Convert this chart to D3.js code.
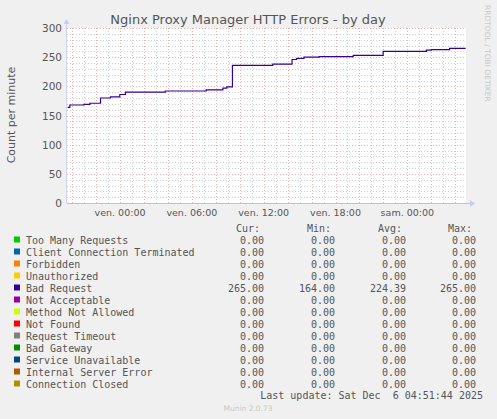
<!DOCTYPE html>
<html><head><meta charset="utf-8">
<script src="https://d3js.org/d3.v7.min.js"></script>
<style>body{margin:0;background:#f0f0f0}svg{display:block}</style>
</head><body><svg id="c" width="497" height="419"></svg>
<script>
// hours relative to Fri 00:00
const hours = [-4.38,-4.19,-3.02,-2.52,-1.63,-0.8,-0.02,0.45,3.78,7.2,8.59,8.92,9.39,12.76,14.37,14.76,15.37,16.64,19.48,21.98,25.59,26.0,27.53,28.87];
const badRequest = [164,168,169,171,180,182,186,190,192,194,197,199,236,238,246,248,250,251,253,260,262,263,265,265];
const yTicks = [0,50,100,150,200,250,300];
const xTickHours = [0,6,12,18,24];
const xTickLabels = ["ven. 00:00","ven. 06:00","ven. 12:00","ven. 18:00","sam. 00:00"];
const seriesNames = ["Too Many Requests","Client Connection Terminated","Forbidden","Unauthorized","Bad Request","Not Acceptable","Method Not Allowed","Not Found","Request Timeout","Bad Gateway","Service Unavailable","Internal Server Error","Connection Closed"];
const seriesColors = ["#00cc00","#0066b3","#ff8000","#ffcc00","#330099","#990099","#ccff00","#ff0000","#808080","#008f00","#00487d","#b35a00","#b38f00"];
const curV = [0,0,0,0,265,0,0,0,0,0,0,0,0];
const minV = [0,0,0,0,164,0,0,0,0,0,0,0,0];
const avgV = [0,0,0,0,224.39,0,0,0,0,0,0,0,0];
const maxV = [0,0,0,0,265,0,0,0,0,0,0,0,0];

const svg = d3.select("#c");
const L=67,R=466,T=28,B=203;
const x = d3.scaleLinear().domain([-4.43,28.9]).range([L,R]);
const y = d3.scaleLinear().domain([0,300]).range([B,T]);
svg.append("rect").attr("x",L).attr("y",T).attr("width",R-L).attr("height",B-T).attr("fill","#ffffff");
const g = svg.append("g");
// horizontal grid
for (let v=10; v<=300; v+=10) {
  const maj = v%50===0;
  g.append("line").attr("x1",L).attr("x2",R).attr("y1",Math.round(y(v))+0.5).attr("y2",Math.round(y(v))+0.5)
   .attr("stroke",maj?"#e8b0b0":"#d0d0d0").attr("stroke-width",1).attr("stroke-dasharray","1,2");
}
for (let h=-4; h<=28; h+=1) {
  const maj = ((h%2)+2)%2===0;
  g.append("line").attr("y1",T).attr("y2",B).attr("x1",Math.round(x(h))+0.5).attr("x2",Math.round(x(h))+0.5)
   .attr("stroke",maj?"#e8b0b0":"#d0d0d0").attr("stroke-width",1).attr("stroke-dasharray","1,2");
}
// axes
svg.append("line").attr("x1",L).attr("x2",R+4).attr("y1",B+0.5).attr("y2",B+0.5).attr("stroke","#c8c0b0");
svg.append("line").attr("x1",L-0.5).attr("x2",L-0.5).attr("y1",B).attr("y2",T-6).attr("stroke","#d0d4f4");
svg.append("path").attr("d",`M${R+4},${B-3}L${R+9},${B+0.5}L${R+4},${B+4}Z`).attr("fill","#c8ccf4");
svg.append("path").attr("d",`M${L-3.5},${T-4}L${L-0.5},${T-9}L${L+2.5},${T-4}Z`).attr("fill","#c8ccf4");
const font="DejaVu Sans";
yTicks.forEach(v=>svg.append("text").attr("x",L-5).attr("y",y(v)+4).attr("text-anchor","end")
  .attr("font-family",font).attr("font-size",10.5).attr("fill","#555").text(v));
xTickHours.forEach((h,i)=>svg.append("text").attr("x",x(h)).attr("y",216).attr("text-anchor","middle")
  .attr("font-family",font).attr("font-size",9.5).attr("fill","#555").text(xTickLabels[i]));
// line
const pts = hours.map((h,i)=>[h,badRequest[i]]);
svg.append("path").datum(pts).attr("fill","none").attr("stroke","#330099").attr("stroke-width",1.2)
  .attr("d",d3.line().x(d=>x(d[0])).y(d=>y(d[1])).curve(d3.curveStepAfter));
// title etc
svg.append("text").attr("x",248).attr("y",24).attr("text-anchor","middle").attr("font-family",font)
  .attr("font-size",13).attr("fill","#555").text("Nginx Proxy Manager HTTP Errors - by day");
svg.append("text").attr("transform","translate(15,115) rotate(-90)").attr("text-anchor","middle")
  .attr("font-family",font).attr("font-size",11).attr("fill","#555").text("Count per minute");
svg.append("text").attr("transform","translate(485,5) rotate(90)").attr("text-anchor","start")
  .attr("font-family",font).attr("font-size",7.5).attr("fill","#c8c8c8").text("RRDTOOL / TOBI OETIKER");
// legend
const mono="DejaVu Sans Mono", fs=10;
const cols=[264,335,406,476], hdr=["Cur:","Min:","Avg:","Max:"];
hdr.forEach((t,i)=>svg.append("text").attr("x",cols[i]-4).attr("y",232).attr("text-anchor","end")
  .attr("font-family",mono).attr("font-size",fs).attr("fill","#555").text(t));
seriesNames.forEach((n,i)=>{
  const yy=244+i*12;
  svg.append("rect").attr("x",14).attr("y",yy-7.5).attr("width",6).attr("height",6).attr("fill",seriesColors[i]);
  svg.append("text").attr("x",26).attr("y",yy).attr("font-family",mono).attr("font-size",fs).attr("fill","#555").text(n);
  [curV,minV,avgV,maxV].forEach((arr,j)=>svg.append("text").attr("x",cols[j]).attr("y",yy).attr("text-anchor","end")
    .attr("font-family",mono).attr("font-size",fs).attr("fill","#555").text(arr[i].toFixed(2)));
});
svg.append("text").attr("x",483).attr("y",399).attr("text-anchor","end").attr("font-family",mono)
  .attr("font-size",fs).attr("fill","#555").attr("xml:space","preserve").style("white-space","pre").text("Last update: Sat Dec  6 04:51:44 2025");
svg.append("text").attr("x",248).attr("y",411).attr("text-anchor","middle").attr("font-family",font)
  .attr("font-size",7.5).attr("fill","#c8c8c8").text("Munin 2.0.73");
</script></body></html>
